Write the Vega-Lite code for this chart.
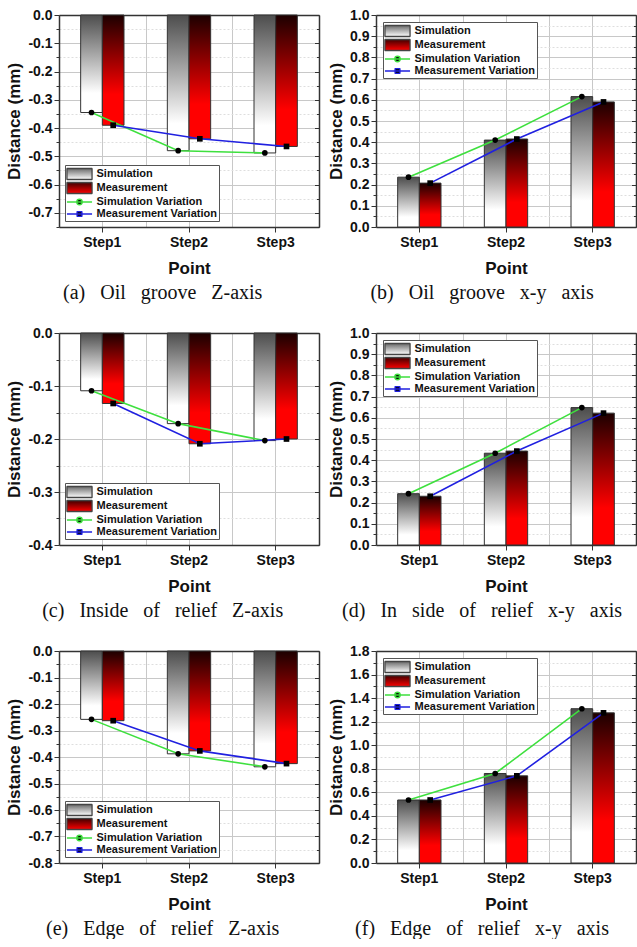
{
 "$schema": "https://vega.github.io/schema/vega-lite/v6.json",
 "background": "white",
 "padding": {"top": 8, "left": 5, "right": 0, "bottom": 0},
 "data": {"values": [
  {"panel":"a","step":"Step1","series":"Simulation","value":-0.345},
  {"panel":"a","step":"Step2","series":"Simulation","value":-0.48},
  {"panel":"a","step":"Step3","series":"Simulation","value":-0.488},
  {"panel":"a","step":"Step1","series":"Measurement","value":-0.39},
  {"panel":"a","step":"Step2","series":"Measurement","value":-0.438},
  {"panel":"a","step":"Step3","series":"Measurement","value":-0.465},
  {"panel":"b","step":"Step1","series":"Simulation","value":0.235},
  {"panel":"b","step":"Step2","series":"Simulation","value":0.41},
  {"panel":"b","step":"Step3","series":"Simulation","value":0.615},
  {"panel":"b","step":"Step1","series":"Measurement","value":0.207},
  {"panel":"b","step":"Step2","series":"Measurement","value":0.415},
  {"panel":"b","step":"Step3","series":"Measurement","value":0.59},
  {"panel":"c","step":"Step1","series":"Simulation","value":-0.109},
  {"panel":"c","step":"Step2","series":"Simulation","value":-0.171},
  {"panel":"c","step":"Step3","series":"Simulation","value":-0.203},
  {"panel":"c","step":"Step1","series":"Measurement","value":-0.133},
  {"panel":"c","step":"Step2","series":"Measurement","value":-0.209},
  {"panel":"c","step":"Step3","series":"Measurement","value":-0.2},
  {"panel":"d","step":"Step1","series":"Simulation","value":0.242},
  {"panel":"d","step":"Step2","series":"Simulation","value":0.433},
  {"panel":"d","step":"Step3","series":"Simulation","value":0.648},
  {"panel":"d","step":"Step1","series":"Measurement","value":0.23},
  {"panel":"d","step":"Step2","series":"Measurement","value":0.443},
  {"panel":"d","step":"Step3","series":"Measurement","value":0.622},
  {"panel":"e","step":"Step1","series":"Simulation","value":-0.258},
  {"panel":"e","step":"Step2","series":"Simulation","value":-0.388},
  {"panel":"e","step":"Step3","series":"Simulation","value":-0.437},
  {"panel":"e","step":"Step1","series":"Measurement","value":-0.263},
  {"panel":"e","step":"Step2","series":"Measurement","value":-0.377},
  {"panel":"e","step":"Step3","series":"Measurement","value":-0.425},
  {"panel":"f","step":"Step1","series":"Simulation","value":0.535},
  {"panel":"f","step":"Step2","series":"Simulation","value":0.76},
  {"panel":"f","step":"Step3","series":"Simulation","value":1.31},
  {"panel":"f","step":"Step1","series":"Measurement","value":0.535},
  {"panel":"f","step":"Step2","series":"Measurement","value":0.74},
  {"panel":"f","step":"Step3","series":"Measurement","value":1.275}
 ]},
 "spacing": 23,
 "vconcat": [
  {"spacing": 7, "hconcat": [
   {
    "width": 260, "height": 212,
    "title": {"text": "(a)\u00a0\u00a0\u00a0Oil\u00a0\u00a0\u00a0groove\u00a0\u00a0\u00a0Z-axis", "orient": "bottom", "frame": "bounds", "font": "Liberation Serif", "fontSize": 20, "fontWeight": "normal", "color": "#111", "offset": 7},
    "transform": [{"filter": "datum.panel === 'a'"}],
    "encoding": {
     "x": {"field": "step", "type": "nominal", "scale": {"paddingInner": 0, "paddingOuter": 0}, "axis": null},
     "xOffset": {"field": "series", "type": "nominal", "scale": {"domain": ["Simulation", "Measurement"], "paddingInner": 0, "paddingOuter": 1}},
     "y": {"field": "value", "type": "quantitative", "scale": {"domain": [-0.75, 0], "nice": false}, "axis": null}
    },
    "layer": [
     {"transform": [{"filter": "datum.series === 'Simulation'"}],
      "mark": {"type": "bar", "stroke": "#333", "strokeWidth": 1, "color": {"gradient": "linear", "x1": 0, "y1": 0, "x2": 0, "y2": 1, "stops": [{"offset": 0, "color": "#4d4d4d"}, {"offset": 0.8, "color": "#ffffff"}, {"offset": 1, "color": "#ffffff"}]}},
      "encoding": {
       "x": {"field": "step", "type": "nominal", "scale": {"paddingInner": 0, "paddingOuter": 0}, "axis": {"orient": "bottom", "title": "Point", "titleFontSize": 17, "titleFontWeight": "bold", "titlePadding": 11, "titleColor": "#111", "labelFontSize": 14, "labelFontWeight": "bold", "labelColor": "#111", "labelAngle": 0, "labelPadding": 3, "tickSize": 5, "tickColor": "#333", "domainColor": "#333", "domainWidth": 1.5, "bandPosition": 0.5, "grid": true, "gridColor": "#c8c8c8"}},
       "y": {"field": "value", "type": "quantitative", "scale": {"domain": [-0.75, 0], "nice": false}, "axis": {"orient": "left", "title": "Distance (mm)", "titleFontSize": 17, "titleFontWeight": "bold", "titleColor": "#111", "titlePadding": 4, "values": [0,-0.05,-0.1,-0.15,-0.2,-0.25,-0.3,-0.35,-0.4,-0.45,-0.5,-0.55,-0.6,-0.65,-0.7,-0.75], "labelExpr": "abs(round(datum.value*20)) % 2 == 1 ? '' : replace(format(datum.value, '.1f'), '\u2212', '-')", "labelFontSize": 14, "labelFontWeight": "bold", "labelColor": "#111", "labelPadding": 2, "tickColor": "#333", "tickSize": {"condition": {"test": "abs(round(datum.value*20)) % 2 == 1", "value": 3}, "value": 5}, "domainColor": "#333", "domainWidth": 1.5, "grid": true, "gridColor": {"condition": {"test": "abs(round(datum.value*20)) % 2 == 1", "value": "#dedede"}, "value": "#c8c8c8"}, "gridDash": {"condition": {"test": "abs(round(datum.value*20)) % 2 == 1", "value": [2, 2]}, "value": []}}}
      }},
     {"transform": [{"filter": "datum.series === 'Measurement'"}],
      "mark": {"type": "bar", "stroke": "#333", "strokeWidth": 1, "color": {"gradient": "linear", "x1": 0, "y1": 0, "x2": 0, "y2": 1, "stops": [{"offset": 0, "color": "#1c0000"}, {"offset": 0.72, "color": "#ff0000"}, {"offset": 1, "color": "#ff0000"}]}},
      "encoding": {
       "x": {"field": "step", "type": "nominal", "scale": {"paddingInner": 0, "paddingOuter": 0}, "axis": {"orient": "top", "title": null, "labels": false, "ticks": false, "tickBand": "extent", "grid": true, "gridColor": "#c8c8c8", "domainColor": "#333", "domainWidth": 1.5}},
       "y": {"field": "value", "type": "quantitative", "scale": {"domain": [-0.75, 0], "nice": false}, "axis": {"orient": "right", "title": null, "labels": false, "grid": false, "values": [0,-0.05,-0.1,-0.15,-0.2,-0.25,-0.3,-0.35,-0.4,-0.45,-0.5,-0.55,-0.6,-0.65,-0.7,-0.75], "tickColor": "#333", "tickSize": {"condition": {"test": "abs(round(datum.value*20)) % 2 == 1", "value": -2.5}, "value": -4.5}, "domainColor": "#333", "domainWidth": 1.5}}
      }},
     {"transform": [{"filter": "datum.series === 'Simulation'"}],
      "mark": {"type": "line", "strokeWidth": 1.6},
      "encoding": {"color": {"datum": "Simulation Variation", "type": "nominal", "scale": {"domain": ["Simulation", "Measurement", "Simulation Variation", "Measurement Variation"], "range": ["#444444", "#444444", "#3ee03e", "#2020e0"]},
       "legend": {"title": null, "orient": "bottom-left", "offset": 6, "padding": 2, "strokeColor": "#555", "fillColor": "#ffffff", "labelFont": "Liberation Sans", "labelFontSize": 11, "labelFontWeight": "bold", "labelColor": "#111", "symbolSize": 150, "symbolStrokeWidth": 1.3, "symbolOffset": 5.5, "labelOffset": 10, "rowPadding": -1,
        "encode": {"symbols": {"update": {
         "size": {"value": 150},
         "strokeJoin": {"value": "bevel"},
         "opacity": {"value": 1},
         "fillOpacity": {"value": 1},
         "shape": [{"test": "datum.value === 'Simulation' || datum.value === 'Measurement'", "value": "M-2.05,-0.9H2.05V0.9H-2.05Z"}, {"test": "datum.value === 'Simulation Variation'", "value": "M-2.05,0H2.05M-0.45,0A0.45,0.45 0 1 0 0.45,0A0.45,0.45 0 1 0 -0.45,0Z"}, {"value": "M-2.05,0H2.05M-0.4,-0.4H0.4V0.4H-0.4Z"}],
         "fill": [{"test": "datum.value === 'Simulation'", "value": {"gradient": "linear", "x1": 0, "y1": 0, "x2": 0, "y2": 1, "stops": [{"offset": 0, "color": "#6a6a6a"}, {"offset": 1, "color": "#ffffff"}]}}, {"test": "datum.value === 'Measurement'", "value": {"gradient": "linear", "x1": 0, "y1": 0, "x2": 0, "y2": 1, "stops": [{"offset": 0, "color": "#400000"}, {"offset": 1, "color": "#ff0000"}]}}, {"value": "#000000"}]
        }}}}}}},
     {"transform": [{"filter": "datum.series === 'Measurement'"}],
      "mark": {"type": "line", "strokeWidth": 1.6},
      "encoding": {"color": {"datum": "Measurement Variation", "type": "nominal"}}},
     {"mark": {"type": "point", "filled": true, "color": "#000", "size": 32, "opacity": 1},
      "encoding": {"shape": {"field": "series", "type": "nominal", "scale": {"domain": ["Simulation", "Measurement"], "range": ["circle", "square"]}, "legend": null}}}
    ],
    "resolve": {"axis": {"x": "independent", "y": "independent"}}
   },
   {
    "width": 260, "height": 212,
    "title": {"text": "(b)\u00a0\u00a0\u00a0Oil\u00a0\u00a0\u00a0groove\u00a0\u00a0\u00a0x-y\u00a0\u00a0\u00a0axis", "orient": "bottom", "frame": "bounds", "font": "Liberation Serif", "fontSize": 20, "fontWeight": "normal", "color": "#111", "offset": 7},
    "transform": [{"filter": "datum.panel === 'b'"}],
    "encoding": {
     "x": {"field": "step", "type": "nominal", "scale": {"paddingInner": 0, "paddingOuter": 0}, "axis": null},
     "xOffset": {"field": "series", "type": "nominal", "scale": {"domain": ["Simulation", "Measurement"], "paddingInner": 0, "paddingOuter": 1}},
     "y": {"field": "value", "type": "quantitative", "scale": {"domain": [0, 1], "nice": false}, "axis": null}
    },
    "layer": [
     {"transform": [{"filter": "datum.series === 'Simulation'"}],
      "mark": {"type": "bar", "stroke": "#333", "strokeWidth": 1, "color": {"gradient": "linear", "x1": 0, "y1": 0, "x2": 0, "y2": 1, "stops": [{"offset": 0, "color": "#4d4d4d"}, {"offset": 0.8, "color": "#ffffff"}, {"offset": 1, "color": "#ffffff"}]}},
      "encoding": {
       "x": {"field": "step", "type": "nominal", "scale": {"paddingInner": 0, "paddingOuter": 0}, "axis": {"orient": "bottom", "title": "Point", "titleFontSize": 17, "titleFontWeight": "bold", "titlePadding": 11, "titleColor": "#111", "labelFontSize": 14, "labelFontWeight": "bold", "labelColor": "#111", "labelAngle": 0, "labelPadding": 3, "tickSize": 5, "tickColor": "#333", "domainColor": "#333", "domainWidth": 1.5, "bandPosition": 0.5, "grid": true, "gridColor": "#c8c8c8"}},
       "y": {"field": "value", "type": "quantitative", "scale": {"domain": [0, 1], "nice": false}, "axis": {"orient": "left", "title": "Distance (mm)", "titleFontSize": 17, "titleFontWeight": "bold", "titleColor": "#111", "titlePadding": 4, "values": [0,0.05,0.1,0.15,0.2,0.25,0.3,0.35,0.4,0.45,0.5,0.55,0.6,0.65,0.7,0.75,0.8,0.85,0.9,0.95,1], "labelExpr": "abs(round(datum.value*20)) % 2 == 1 ? '' : replace(format(datum.value, '.1f'), '\u2212', '-')", "labelFontSize": 14, "labelFontWeight": "bold", "labelColor": "#111", "labelPadding": 2, "tickColor": "#333", "tickSize": {"condition": {"test": "abs(round(datum.value*20)) % 2 == 1", "value": 3}, "value": 5}, "domainColor": "#333", "domainWidth": 1.5, "grid": true, "gridColor": {"condition": {"test": "abs(round(datum.value*20)) % 2 == 1", "value": "#dedede"}, "value": "#c8c8c8"}, "gridDash": {"condition": {"test": "abs(round(datum.value*20)) % 2 == 1", "value": [2, 2]}, "value": []}}}
      }},
     {"transform": [{"filter": "datum.series === 'Measurement'"}],
      "mark": {"type": "bar", "stroke": "#333", "strokeWidth": 1, "color": {"gradient": "linear", "x1": 0, "y1": 0, "x2": 0, "y2": 1, "stops": [{"offset": 0, "color": "#1c0000"}, {"offset": 0.72, "color": "#ff0000"}, {"offset": 1, "color": "#ff0000"}]}},
      "encoding": {
       "x": {"field": "step", "type": "nominal", "scale": {"paddingInner": 0, "paddingOuter": 0}, "axis": {"orient": "top", "title": null, "labels": false, "ticks": false, "tickBand": "extent", "grid": true, "gridColor": "#c8c8c8", "domainColor": "#333", "domainWidth": 1.5}},
       "y": {"field": "value", "type": "quantitative", "scale": {"domain": [0, 1], "nice": false}, "axis": {"orient": "right", "title": null, "labels": false, "grid": false, "values": [0,0.05,0.1,0.15,0.2,0.25,0.3,0.35,0.4,0.45,0.5,0.55,0.6,0.65,0.7,0.75,0.8,0.85,0.9,0.95,1], "tickColor": "#333", "tickSize": {"condition": {"test": "abs(round(datum.value*20)) % 2 == 1", "value": -2.5}, "value": -4.5}, "domainColor": "#333", "domainWidth": 1.5}}
      }},
     {"transform": [{"filter": "datum.series === 'Simulation'"}],
      "mark": {"type": "line", "strokeWidth": 1.6},
      "encoding": {"color": {"datum": "Simulation Variation", "type": "nominal", "scale": {"domain": ["Simulation", "Measurement", "Simulation Variation", "Measurement Variation"], "range": ["#444444", "#444444", "#3ee03e", "#2020e0"]},
       "legend": {"title": null, "orient": "top-left", "offset": 7, "padding": 2, "strokeColor": "#555", "fillColor": "#ffffff", "labelFont": "Liberation Sans", "labelFontSize": 11, "labelFontWeight": "bold", "labelColor": "#111", "symbolSize": 150, "symbolStrokeWidth": 1.3, "symbolOffset": 5.5, "labelOffset": 10, "rowPadding": -1,
        "encode": {"symbols": {"update": {
         "size": {"value": 150},
         "strokeJoin": {"value": "bevel"},
         "opacity": {"value": 1},
         "fillOpacity": {"value": 1},
         "shape": [{"test": "datum.value === 'Simulation' || datum.value === 'Measurement'", "value": "M-2.05,-0.9H2.05V0.9H-2.05Z"}, {"test": "datum.value === 'Simulation Variation'", "value": "M-2.05,0H2.05M-0.45,0A0.45,0.45 0 1 0 0.45,0A0.45,0.45 0 1 0 -0.45,0Z"}, {"value": "M-2.05,0H2.05M-0.4,-0.4H0.4V0.4H-0.4Z"}],
         "fill": [{"test": "datum.value === 'Simulation'", "value": {"gradient": "linear", "x1": 0, "y1": 0, "x2": 0, "y2": 1, "stops": [{"offset": 0, "color": "#6a6a6a"}, {"offset": 1, "color": "#ffffff"}]}}, {"test": "datum.value === 'Measurement'", "value": {"gradient": "linear", "x1": 0, "y1": 0, "x2": 0, "y2": 1, "stops": [{"offset": 0, "color": "#400000"}, {"offset": 1, "color": "#ff0000"}]}}, {"value": "#000000"}]
        }}}}}}},
     {"transform": [{"filter": "datum.series === 'Measurement'"}],
      "mark": {"type": "line", "strokeWidth": 1.6},
      "encoding": {"color": {"datum": "Measurement Variation", "type": "nominal"}}},
     {"mark": {"type": "point", "filled": true, "color": "#000", "size": 32, "opacity": 1},
      "encoding": {"shape": {"field": "series", "type": "nominal", "scale": {"domain": ["Simulation", "Measurement"], "range": ["circle", "square"]}, "legend": null}}}
    ],
    "resolve": {"axis": {"x": "independent", "y": "independent"}}
   }
  ]},
  {"spacing": 7, "hconcat": [
   {
    "width": 260, "height": 212,
    "title": {"text": "(c)\u00a0\u00a0\u00a0Inside\u00a0\u00a0\u00a0of\u00a0\u00a0\u00a0relief\u00a0\u00a0\u00a0Z-axis", "orient": "bottom", "frame": "bounds", "font": "Liberation Serif", "fontSize": 20, "fontWeight": "normal", "color": "#111", "offset": 7},
    "transform": [{"filter": "datum.panel === 'c'"}],
    "encoding": {
     "x": {"field": "step", "type": "nominal", "scale": {"paddingInner": 0, "paddingOuter": 0}, "axis": null},
     "xOffset": {"field": "series", "type": "nominal", "scale": {"domain": ["Simulation", "Measurement"], "paddingInner": 0, "paddingOuter": 1}},
     "y": {"field": "value", "type": "quantitative", "scale": {"domain": [-0.4, 0], "nice": false}, "axis": null}
    },
    "layer": [
     {"transform": [{"filter": "datum.series === 'Simulation'"}],
      "mark": {"type": "bar", "stroke": "#333", "strokeWidth": 1, "color": {"gradient": "linear", "x1": 0, "y1": 0, "x2": 0, "y2": 1, "stops": [{"offset": 0, "color": "#4d4d4d"}, {"offset": 0.8, "color": "#ffffff"}, {"offset": 1, "color": "#ffffff"}]}},
      "encoding": {
       "x": {"field": "step", "type": "nominal", "scale": {"paddingInner": 0, "paddingOuter": 0}, "axis": {"orient": "bottom", "title": "Point", "titleFontSize": 17, "titleFontWeight": "bold", "titlePadding": 11, "titleColor": "#111", "labelFontSize": 14, "labelFontWeight": "bold", "labelColor": "#111", "labelAngle": 0, "labelPadding": 3, "tickSize": 5, "tickColor": "#333", "domainColor": "#333", "domainWidth": 1.5, "bandPosition": 0.5, "grid": true, "gridColor": "#c8c8c8"}},
       "y": {"field": "value", "type": "quantitative", "scale": {"domain": [-0.4, 0], "nice": false}, "axis": {"orient": "left", "title": "Distance (mm)", "titleFontSize": 17, "titleFontWeight": "bold", "titleColor": "#111", "titlePadding": 4, "values": [0,-0.05,-0.1,-0.15,-0.2,-0.25,-0.3,-0.35,-0.4], "labelExpr": "abs(round(datum.value*20)) % 2 == 1 ? '' : replace(format(datum.value, '.1f'), '\u2212', '-')", "labelFontSize": 14, "labelFontWeight": "bold", "labelColor": "#111", "labelPadding": 2, "tickColor": "#333", "tickSize": {"condition": {"test": "abs(round(datum.value*20)) % 2 == 1", "value": 3}, "value": 5}, "domainColor": "#333", "domainWidth": 1.5, "grid": true, "gridColor": {"condition": {"test": "abs(round(datum.value*20)) % 2 == 1", "value": "#dedede"}, "value": "#c8c8c8"}, "gridDash": {"condition": {"test": "abs(round(datum.value*20)) % 2 == 1", "value": [2, 2]}, "value": []}}}
      }},
     {"transform": [{"filter": "datum.series === 'Measurement'"}],
      "mark": {"type": "bar", "stroke": "#333", "strokeWidth": 1, "color": {"gradient": "linear", "x1": 0, "y1": 0, "x2": 0, "y2": 1, "stops": [{"offset": 0, "color": "#1c0000"}, {"offset": 0.72, "color": "#ff0000"}, {"offset": 1, "color": "#ff0000"}]}},
      "encoding": {
       "x": {"field": "step", "type": "nominal", "scale": {"paddingInner": 0, "paddingOuter": 0}, "axis": {"orient": "top", "title": null, "labels": false, "ticks": false, "tickBand": "extent", "grid": true, "gridColor": "#c8c8c8", "domainColor": "#333", "domainWidth": 1.5}},
       "y": {"field": "value", "type": "quantitative", "scale": {"domain": [-0.4, 0], "nice": false}, "axis": {"orient": "right", "title": null, "labels": false, "grid": false, "values": [0,-0.05,-0.1,-0.15,-0.2,-0.25,-0.3,-0.35,-0.4], "tickColor": "#333", "tickSize": {"condition": {"test": "abs(round(datum.value*20)) % 2 == 1", "value": -2.5}, "value": -4.5}, "domainColor": "#333", "domainWidth": 1.5}}
      }},
     {"transform": [{"filter": "datum.series === 'Simulation'"}],
      "mark": {"type": "line", "strokeWidth": 1.6},
      "encoding": {"color": {"datum": "Simulation Variation", "type": "nominal", "scale": {"domain": ["Simulation", "Measurement", "Simulation Variation", "Measurement Variation"], "range": ["#444444", "#444444", "#3ee03e", "#2020e0"]},
       "legend": {"title": null, "orient": "bottom-left", "offset": 6, "padding": 2, "strokeColor": "#555", "fillColor": "#ffffff", "labelFont": "Liberation Sans", "labelFontSize": 11, "labelFontWeight": "bold", "labelColor": "#111", "symbolSize": 150, "symbolStrokeWidth": 1.3, "symbolOffset": 5.5, "labelOffset": 10, "rowPadding": -1,
        "encode": {"symbols": {"update": {
         "size": {"value": 150},
         "strokeJoin": {"value": "bevel"},
         "opacity": {"value": 1},
         "fillOpacity": {"value": 1},
         "shape": [{"test": "datum.value === 'Simulation' || datum.value === 'Measurement'", "value": "M-2.05,-0.9H2.05V0.9H-2.05Z"}, {"test": "datum.value === 'Simulation Variation'", "value": "M-2.05,0H2.05M-0.45,0A0.45,0.45 0 1 0 0.45,0A0.45,0.45 0 1 0 -0.45,0Z"}, {"value": "M-2.05,0H2.05M-0.4,-0.4H0.4V0.4H-0.4Z"}],
         "fill": [{"test": "datum.value === 'Simulation'", "value": {"gradient": "linear", "x1": 0, "y1": 0, "x2": 0, "y2": 1, "stops": [{"offset": 0, "color": "#6a6a6a"}, {"offset": 1, "color": "#ffffff"}]}}, {"test": "datum.value === 'Measurement'", "value": {"gradient": "linear", "x1": 0, "y1": 0, "x2": 0, "y2": 1, "stops": [{"offset": 0, "color": "#400000"}, {"offset": 1, "color": "#ff0000"}]}}, {"value": "#000000"}]
        }}}}}}},
     {"transform": [{"filter": "datum.series === 'Measurement'"}],
      "mark": {"type": "line", "strokeWidth": 1.6},
      "encoding": {"color": {"datum": "Measurement Variation", "type": "nominal"}}},
     {"mark": {"type": "point", "filled": true, "color": "#000", "size": 32, "opacity": 1},
      "encoding": {"shape": {"field": "series", "type": "nominal", "scale": {"domain": ["Simulation", "Measurement"], "range": ["circle", "square"]}, "legend": null}}}
    ],
    "resolve": {"axis": {"x": "independent", "y": "independent"}}
   },
   {
    "width": 260, "height": 212,
    "title": {"text": "(d)\u00a0\u00a0\u00a0In\u00a0\u00a0\u00a0side\u00a0\u00a0\u00a0of\u00a0\u00a0\u00a0relief\u00a0\u00a0\u00a0x-y\u00a0\u00a0\u00a0axis", "orient": "bottom", "frame": "bounds", "font": "Liberation Serif", "fontSize": 20, "fontWeight": "normal", "color": "#111", "offset": 7},
    "transform": [{"filter": "datum.panel === 'd'"}],
    "encoding": {
     "x": {"field": "step", "type": "nominal", "scale": {"paddingInner": 0, "paddingOuter": 0}, "axis": null},
     "xOffset": {"field": "series", "type": "nominal", "scale": {"domain": ["Simulation", "Measurement"], "paddingInner": 0, "paddingOuter": 1}},
     "y": {"field": "value", "type": "quantitative", "scale": {"domain": [0, 1], "nice": false}, "axis": null}
    },
    "layer": [
     {"transform": [{"filter": "datum.series === 'Simulation'"}],
      "mark": {"type": "bar", "stroke": "#333", "strokeWidth": 1, "color": {"gradient": "linear", "x1": 0, "y1": 0, "x2": 0, "y2": 1, "stops": [{"offset": 0, "color": "#4d4d4d"}, {"offset": 0.8, "color": "#ffffff"}, {"offset": 1, "color": "#ffffff"}]}},
      "encoding": {
       "x": {"field": "step", "type": "nominal", "scale": {"paddingInner": 0, "paddingOuter": 0}, "axis": {"orient": "bottom", "title": "Point", "titleFontSize": 17, "titleFontWeight": "bold", "titlePadding": 11, "titleColor": "#111", "labelFontSize": 14, "labelFontWeight": "bold", "labelColor": "#111", "labelAngle": 0, "labelPadding": 3, "tickSize": 5, "tickColor": "#333", "domainColor": "#333", "domainWidth": 1.5, "bandPosition": 0.5, "grid": true, "gridColor": "#c8c8c8"}},
       "y": {"field": "value", "type": "quantitative", "scale": {"domain": [0, 1], "nice": false}, "axis": {"orient": "left", "title": "Distance (mm)", "titleFontSize": 17, "titleFontWeight": "bold", "titleColor": "#111", "titlePadding": 4, "values": [0,0.05,0.1,0.15,0.2,0.25,0.3,0.35,0.4,0.45,0.5,0.55,0.6,0.65,0.7,0.75,0.8,0.85,0.9,0.95,1], "labelExpr": "abs(round(datum.value*20)) % 2 == 1 ? '' : replace(format(datum.value, '.1f'), '\u2212', '-')", "labelFontSize": 14, "labelFontWeight": "bold", "labelColor": "#111", "labelPadding": 2, "tickColor": "#333", "tickSize": {"condition": {"test": "abs(round(datum.value*20)) % 2 == 1", "value": 3}, "value": 5}, "domainColor": "#333", "domainWidth": 1.5, "grid": true, "gridColor": {"condition": {"test": "abs(round(datum.value*20)) % 2 == 1", "value": "#dedede"}, "value": "#c8c8c8"}, "gridDash": {"condition": {"test": "abs(round(datum.value*20)) % 2 == 1", "value": [2, 2]}, "value": []}}}
      }},
     {"transform": [{"filter": "datum.series === 'Measurement'"}],
      "mark": {"type": "bar", "stroke": "#333", "strokeWidth": 1, "color": {"gradient": "linear", "x1": 0, "y1": 0, "x2": 0, "y2": 1, "stops": [{"offset": 0, "color": "#1c0000"}, {"offset": 0.72, "color": "#ff0000"}, {"offset": 1, "color": "#ff0000"}]}},
      "encoding": {
       "x": {"field": "step", "type": "nominal", "scale": {"paddingInner": 0, "paddingOuter": 0}, "axis": {"orient": "top", "title": null, "labels": false, "ticks": false, "tickBand": "extent", "grid": true, "gridColor": "#c8c8c8", "domainColor": "#333", "domainWidth": 1.5}},
       "y": {"field": "value", "type": "quantitative", "scale": {"domain": [0, 1], "nice": false}, "axis": {"orient": "right", "title": null, "labels": false, "grid": false, "values": [0,0.05,0.1,0.15,0.2,0.25,0.3,0.35,0.4,0.45,0.5,0.55,0.6,0.65,0.7,0.75,0.8,0.85,0.9,0.95,1], "tickColor": "#333", "tickSize": {"condition": {"test": "abs(round(datum.value*20)) % 2 == 1", "value": -2.5}, "value": -4.5}, "domainColor": "#333", "domainWidth": 1.5}}
      }},
     {"transform": [{"filter": "datum.series === 'Simulation'"}],
      "mark": {"type": "line", "strokeWidth": 1.6},
      "encoding": {"color": {"datum": "Simulation Variation", "type": "nominal", "scale": {"domain": ["Simulation", "Measurement", "Simulation Variation", "Measurement Variation"], "range": ["#444444", "#444444", "#3ee03e", "#2020e0"]},
       "legend": {"title": null, "orient": "top-left", "offset": 7, "padding": 2, "strokeColor": "#555", "fillColor": "#ffffff", "labelFont": "Liberation Sans", "labelFontSize": 11, "labelFontWeight": "bold", "labelColor": "#111", "symbolSize": 150, "symbolStrokeWidth": 1.3, "symbolOffset": 5.5, "labelOffset": 10, "rowPadding": -1,
        "encode": {"symbols": {"update": {
         "size": {"value": 150},
         "strokeJoin": {"value": "bevel"},
         "opacity": {"value": 1},
         "fillOpacity": {"value": 1},
         "shape": [{"test": "datum.value === 'Simulation' || datum.value === 'Measurement'", "value": "M-2.05,-0.9H2.05V0.9H-2.05Z"}, {"test": "datum.value === 'Simulation Variation'", "value": "M-2.05,0H2.05M-0.45,0A0.45,0.45 0 1 0 0.45,0A0.45,0.45 0 1 0 -0.45,0Z"}, {"value": "M-2.05,0H2.05M-0.4,-0.4H0.4V0.4H-0.4Z"}],
         "fill": [{"test": "datum.value === 'Simulation'", "value": {"gradient": "linear", "x1": 0, "y1": 0, "x2": 0, "y2": 1, "stops": [{"offset": 0, "color": "#6a6a6a"}, {"offset": 1, "color": "#ffffff"}]}}, {"test": "datum.value === 'Measurement'", "value": {"gradient": "linear", "x1": 0, "y1": 0, "x2": 0, "y2": 1, "stops": [{"offset": 0, "color": "#400000"}, {"offset": 1, "color": "#ff0000"}]}}, {"value": "#000000"}]
        }}}}}}},
     {"transform": [{"filter": "datum.series === 'Measurement'"}],
      "mark": {"type": "line", "strokeWidth": 1.6},
      "encoding": {"color": {"datum": "Measurement Variation", "type": "nominal"}}},
     {"mark": {"type": "point", "filled": true, "color": "#000", "size": 32, "opacity": 1},
      "encoding": {"shape": {"field": "series", "type": "nominal", "scale": {"domain": ["Simulation", "Measurement"], "range": ["circle", "square"]}, "legend": null}}}
    ],
    "resolve": {"axis": {"x": "independent", "y": "independent"}}
   }
  ]},
  {"spacing": 7, "hconcat": [
   {
    "width": 260, "height": 212,
    "title": {"text": "(e)\u00a0\u00a0\u00a0Edge\u00a0\u00a0\u00a0of\u00a0\u00a0\u00a0relief\u00a0\u00a0\u00a0Z-axis", "orient": "bottom", "frame": "bounds", "font": "Liberation Serif", "fontSize": 20, "fontWeight": "normal", "color": "#111", "offset": 7},
    "transform": [{"filter": "datum.panel === 'e'"}],
    "encoding": {
     "x": {"field": "step", "type": "nominal", "scale": {"paddingInner": 0, "paddingOuter": 0}, "axis": null},
     "xOffset": {"field": "series", "type": "nominal", "scale": {"domain": ["Simulation", "Measurement"], "paddingInner": 0, "paddingOuter": 1}},
     "y": {"field": "value", "type": "quantitative", "scale": {"domain": [-0.8, 0], "nice": false}, "axis": null}
    },
    "layer": [
     {"transform": [{"filter": "datum.series === 'Simulation'"}],
      "mark": {"type": "bar", "stroke": "#333", "strokeWidth": 1, "color": {"gradient": "linear", "x1": 0, "y1": 0, "x2": 0, "y2": 1, "stops": [{"offset": 0, "color": "#4d4d4d"}, {"offset": 0.8, "color": "#ffffff"}, {"offset": 1, "color": "#ffffff"}]}},
      "encoding": {
       "x": {"field": "step", "type": "nominal", "scale": {"paddingInner": 0, "paddingOuter": 0}, "axis": {"orient": "bottom", "title": "Point", "titleFontSize": 17, "titleFontWeight": "bold", "titlePadding": 11, "titleColor": "#111", "labelFontSize": 14, "labelFontWeight": "bold", "labelColor": "#111", "labelAngle": 0, "labelPadding": 3, "tickSize": 5, "tickColor": "#333", "domainColor": "#333", "domainWidth": 1.5, "bandPosition": 0.5, "grid": true, "gridColor": "#c8c8c8"}},
       "y": {"field": "value", "type": "quantitative", "scale": {"domain": [-0.8, 0], "nice": false}, "axis": {"orient": "left", "title": "Distance (mm)", "titleFontSize": 17, "titleFontWeight": "bold", "titleColor": "#111", "titlePadding": 4, "values": [0,-0.05,-0.1,-0.15,-0.2,-0.25,-0.3,-0.35,-0.4,-0.45,-0.5,-0.55,-0.6,-0.65,-0.7,-0.75,-0.8], "labelExpr": "abs(round(datum.value*20)) % 2 == 1 ? '' : replace(format(datum.value, '.1f'), '\u2212', '-')", "labelFontSize": 14, "labelFontWeight": "bold", "labelColor": "#111", "labelPadding": 2, "tickColor": "#333", "tickSize": {"condition": {"test": "abs(round(datum.value*20)) % 2 == 1", "value": 3}, "value": 5}, "domainColor": "#333", "domainWidth": 1.5, "grid": true, "gridColor": {"condition": {"test": "abs(round(datum.value*20)) % 2 == 1", "value": "#dedede"}, "value": "#c8c8c8"}, "gridDash": {"condition": {"test": "abs(round(datum.value*20)) % 2 == 1", "value": [2, 2]}, "value": []}}}
      }},
     {"transform": [{"filter": "datum.series === 'Measurement'"}],
      "mark": {"type": "bar", "stroke": "#333", "strokeWidth": 1, "color": {"gradient": "linear", "x1": 0, "y1": 0, "x2": 0, "y2": 1, "stops": [{"offset": 0, "color": "#1c0000"}, {"offset": 0.72, "color": "#ff0000"}, {"offset": 1, "color": "#ff0000"}]}},
      "encoding": {
       "x": {"field": "step", "type": "nominal", "scale": {"paddingInner": 0, "paddingOuter": 0}, "axis": {"orient": "top", "title": null, "labels": false, "ticks": false, "tickBand": "extent", "grid": true, "gridColor": "#c8c8c8", "domainColor": "#333", "domainWidth": 1.5}},
       "y": {"field": "value", "type": "quantitative", "scale": {"domain": [-0.8, 0], "nice": false}, "axis": {"orient": "right", "title": null, "labels": false, "grid": false, "values": [0,-0.05,-0.1,-0.15,-0.2,-0.25,-0.3,-0.35,-0.4,-0.45,-0.5,-0.55,-0.6,-0.65,-0.7,-0.75,-0.8], "tickColor": "#333", "tickSize": {"condition": {"test": "abs(round(datum.value*20)) % 2 == 1", "value": -2.5}, "value": -4.5}, "domainColor": "#333", "domainWidth": 1.5}}
      }},
     {"transform": [{"filter": "datum.series === 'Simulation'"}],
      "mark": {"type": "line", "strokeWidth": 1.6},
      "encoding": {"color": {"datum": "Simulation Variation", "type": "nominal", "scale": {"domain": ["Simulation", "Measurement", "Simulation Variation", "Measurement Variation"], "range": ["#444444", "#444444", "#3ee03e", "#2020e0"]},
       "legend": {"title": null, "orient": "bottom-left", "offset": 6, "padding": 2, "strokeColor": "#555", "fillColor": "#ffffff", "labelFont": "Liberation Sans", "labelFontSize": 11, "labelFontWeight": "bold", "labelColor": "#111", "symbolSize": 150, "symbolStrokeWidth": 1.3, "symbolOffset": 5.5, "labelOffset": 10, "rowPadding": -1,
        "encode": {"symbols": {"update": {
         "size": {"value": 150},
         "strokeJoin": {"value": "bevel"},
         "opacity": {"value": 1},
         "fillOpacity": {"value": 1},
         "shape": [{"test": "datum.value === 'Simulation' || datum.value === 'Measurement'", "value": "M-2.05,-0.9H2.05V0.9H-2.05Z"}, {"test": "datum.value === 'Simulation Variation'", "value": "M-2.05,0H2.05M-0.45,0A0.45,0.45 0 1 0 0.45,0A0.45,0.45 0 1 0 -0.45,0Z"}, {"value": "M-2.05,0H2.05M-0.4,-0.4H0.4V0.4H-0.4Z"}],
         "fill": [{"test": "datum.value === 'Simulation'", "value": {"gradient": "linear", "x1": 0, "y1": 0, "x2": 0, "y2": 1, "stops": [{"offset": 0, "color": "#6a6a6a"}, {"offset": 1, "color": "#ffffff"}]}}, {"test": "datum.value === 'Measurement'", "value": {"gradient": "linear", "x1": 0, "y1": 0, "x2": 0, "y2": 1, "stops": [{"offset": 0, "color": "#400000"}, {"offset": 1, "color": "#ff0000"}]}}, {"value": "#000000"}]
        }}}}}}},
     {"transform": [{"filter": "datum.series === 'Measurement'"}],
      "mark": {"type": "line", "strokeWidth": 1.6},
      "encoding": {"color": {"datum": "Measurement Variation", "type": "nominal"}}},
     {"mark": {"type": "point", "filled": true, "color": "#000", "size": 32, "opacity": 1},
      "encoding": {"shape": {"field": "series", "type": "nominal", "scale": {"domain": ["Simulation", "Measurement"], "range": ["circle", "square"]}, "legend": null}}}
    ],
    "resolve": {"axis": {"x": "independent", "y": "independent"}}
   },
   {
    "width": 260, "height": 212,
    "title": {"text": "(f)\u00a0\u00a0\u00a0Edge\u00a0\u00a0\u00a0of\u00a0\u00a0\u00a0relief\u00a0\u00a0\u00a0x-y\u00a0\u00a0\u00a0axis", "orient": "bottom", "frame": "bounds", "font": "Liberation Serif", "fontSize": 20, "fontWeight": "normal", "color": "#111", "offset": 7},
    "transform": [{"filter": "datum.panel === 'f'"}],
    "encoding": {
     "x": {"field": "step", "type": "nominal", "scale": {"paddingInner": 0, "paddingOuter": 0}, "axis": null},
     "xOffset": {"field": "series", "type": "nominal", "scale": {"domain": ["Simulation", "Measurement"], "paddingInner": 0, "paddingOuter": 1}},
     "y": {"field": "value", "type": "quantitative", "scale": {"domain": [0, 1.8], "nice": false}, "axis": null}
    },
    "layer": [
     {"transform": [{"filter": "datum.series === 'Simulation'"}],
      "mark": {"type": "bar", "stroke": "#333", "strokeWidth": 1, "color": {"gradient": "linear", "x1": 0, "y1": 0, "x2": 0, "y2": 1, "stops": [{"offset": 0, "color": "#4d4d4d"}, {"offset": 0.8, "color": "#ffffff"}, {"offset": 1, "color": "#ffffff"}]}},
      "encoding": {
       "x": {"field": "step", "type": "nominal", "scale": {"paddingInner": 0, "paddingOuter": 0}, "axis": {"orient": "bottom", "title": "Point", "titleFontSize": 17, "titleFontWeight": "bold", "titlePadding": 11, "titleColor": "#111", "labelFontSize": 14, "labelFontWeight": "bold", "labelColor": "#111", "labelAngle": 0, "labelPadding": 3, "tickSize": 5, "tickColor": "#333", "domainColor": "#333", "domainWidth": 1.5, "bandPosition": 0.5, "grid": true, "gridColor": "#c8c8c8"}},
       "y": {"field": "value", "type": "quantitative", "scale": {"domain": [0, 1.8], "nice": false}, "axis": {"orient": "left", "title": "Distance (mm)", "titleFontSize": 17, "titleFontWeight": "bold", "titleColor": "#111", "titlePadding": 4, "values": [0,0.1,0.2,0.3,0.4,0.5,0.6,0.7,0.8,0.9,1,1.1,1.2,1.3,1.4,1.5,1.6,1.7,1.8], "labelExpr": "abs(round(datum.value*10)) % 2 == 1 ? '' : replace(format(datum.value, '.1f'), '\u2212', '-')", "labelFontSize": 14, "labelFontWeight": "bold", "labelColor": "#111", "labelPadding": 2, "tickColor": "#333", "tickSize": {"condition": {"test": "abs(round(datum.value*10)) % 2 == 1", "value": 3}, "value": 5}, "domainColor": "#333", "domainWidth": 1.5, "grid": true, "gridColor": {"condition": {"test": "abs(round(datum.value*10)) % 2 == 1", "value": "#dedede"}, "value": "#c8c8c8"}, "gridDash": {"condition": {"test": "abs(round(datum.value*10)) % 2 == 1", "value": [2, 2]}, "value": []}}}
      }},
     {"transform": [{"filter": "datum.series === 'Measurement'"}],
      "mark": {"type": "bar", "stroke": "#333", "strokeWidth": 1, "color": {"gradient": "linear", "x1": 0, "y1": 0, "x2": 0, "y2": 1, "stops": [{"offset": 0, "color": "#1c0000"}, {"offset": 0.72, "color": "#ff0000"}, {"offset": 1, "color": "#ff0000"}]}},
      "encoding": {
       "x": {"field": "step", "type": "nominal", "scale": {"paddingInner": 0, "paddingOuter": 0}, "axis": {"orient": "top", "title": null, "labels": false, "ticks": false, "tickBand": "extent", "grid": true, "gridColor": "#c8c8c8", "domainColor": "#333", "domainWidth": 1.5}},
       "y": {"field": "value", "type": "quantitative", "scale": {"domain": [0, 1.8], "nice": false}, "axis": {"orient": "right", "title": null, "labels": false, "grid": false, "values": [0,0.1,0.2,0.3,0.4,0.5,0.6,0.7,0.8,0.9,1,1.1,1.2,1.3,1.4,1.5,1.6,1.7,1.8], "tickColor": "#333", "tickSize": {"condition": {"test": "abs(round(datum.value*10)) % 2 == 1", "value": -2.5}, "value": -4.5}, "domainColor": "#333", "domainWidth": 1.5}}
      }},
     {"transform": [{"filter": "datum.series === 'Simulation'"}],
      "mark": {"type": "line", "strokeWidth": 1.6},
      "encoding": {"color": {"datum": "Simulation Variation", "type": "nominal", "scale": {"domain": ["Simulation", "Measurement", "Simulation Variation", "Measurement Variation"], "range": ["#444444", "#444444", "#3ee03e", "#2020e0"]},
       "legend": {"title": null, "orient": "top-left", "offset": 7, "padding": 2, "strokeColor": "#555", "fillColor": "#ffffff", "labelFont": "Liberation Sans", "labelFontSize": 11, "labelFontWeight": "bold", "labelColor": "#111", "symbolSize": 150, "symbolStrokeWidth": 1.3, "symbolOffset": 5.5, "labelOffset": 10, "rowPadding": -1,
        "encode": {"symbols": {"update": {
         "size": {"value": 150},
         "strokeJoin": {"value": "bevel"},
         "opacity": {"value": 1},
         "fillOpacity": {"value": 1},
         "shape": [{"test": "datum.value === 'Simulation' || datum.value === 'Measurement'", "value": "M-2.05,-0.9H2.05V0.9H-2.05Z"}, {"test": "datum.value === 'Simulation Variation'", "value": "M-2.05,0H2.05M-0.45,0A0.45,0.45 0 1 0 0.45,0A0.45,0.45 0 1 0 -0.45,0Z"}, {"value": "M-2.05,0H2.05M-0.4,-0.4H0.4V0.4H-0.4Z"}],
         "fill": [{"test": "datum.value === 'Simulation'", "value": {"gradient": "linear", "x1": 0, "y1": 0, "x2": 0, "y2": 1, "stops": [{"offset": 0, "color": "#6a6a6a"}, {"offset": 1, "color": "#ffffff"}]}}, {"test": "datum.value === 'Measurement'", "value": {"gradient": "linear", "x1": 0, "y1": 0, "x2": 0, "y2": 1, "stops": [{"offset": 0, "color": "#400000"}, {"offset": 1, "color": "#ff0000"}]}}, {"value": "#000000"}]
        }}}}}}},
     {"transform": [{"filter": "datum.series === 'Measurement'"}],
      "mark": {"type": "line", "strokeWidth": 1.6},
      "encoding": {"color": {"datum": "Measurement Variation", "type": "nominal"}}},
     {"mark": {"type": "point", "filled": true, "color": "#000", "size": 32, "opacity": 1},
      "encoding": {"shape": {"field": "series", "type": "nominal", "scale": {"domain": ["Simulation", "Measurement"], "range": ["circle", "square"]}, "legend": null}}}
    ],
    "resolve": {"axis": {"x": "independent", "y": "independent"}}
   }
  ]}
 ],
 "config": {"view": {"stroke": null}, "font": "Liberation Sans", "axis": {"labelFont": "Liberation Sans", "titleFont": "Liberation Sans"}}
}
